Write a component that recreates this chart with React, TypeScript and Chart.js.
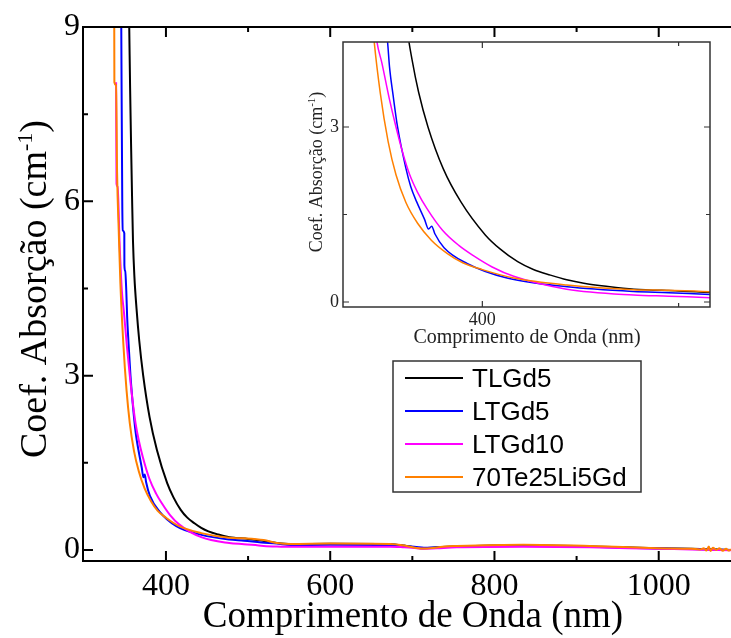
import React, { useEffect, useRef } from 'react';
import { Chart, registerables } from 'chart.js';

Chart.register(...registerables);

// ---- Axis ticks ----
const xTicksMain = [400, 600, 800, 1000];
const xMinorMain = [500, 700, 900];
const yTicksMain = [0, 3, 6, 9];
const yMinorMain = [1.5, 4.5, 7.5];
const xTicksInset = [400];
const xMinorInset = [500];
const yTicksInset = [0, 3];
const yMinorInset = [1.5];

// ---- Series ----
const seriesNames = ['TLGd5', 'LTGd5', 'LTGd10', '70Te25Li5Gd'];
const seriesColors = ['#000000', '#0000ff', '#ff00ff', '#ff8000'];

const wlTLGd5 = [354.6, 355.3, 356.3, 357.5, 358.7, 359.9, 361.6, 364.2, 367.5, 372.3, 380, 389, 401.5, 409, 418, 426, 434.7, 443, 451.7, 464, 477.2, 500, 518, 535, 552, 600, 673, 690, 705, 714, 730, 754, 835, 916, 998, 1040, 1088];
const absTLGd5 = [9.6, 9.0, 8.0, 7.0, 6.1, 5.3, 4.7, 4.15, 3.6, 3.0, 2.29, 1.72, 1.15, 0.91, 0.69, 0.556, 0.46, 0.38, 0.32, 0.265, 0.22, 0.19, 0.16, 0.12, 0.1, 0.105, 0.1, 0.075, 0.04, 0.03, 0.045, 0.06, 0.08, 0.06, 0.03, 0.02, 0.0];

const wlLTGd5 = [345.4, 345.6, 346.8, 347.3, 349.3, 349.4, 350.4, 351.7, 352.7, 354.5, 356.8, 361, 363.5, 366.5, 370.5, 372.6, 374.2, 375.8, 380.5, 392.2, 412.6, 443.2, 477, 495, 516, 535, 552, 600, 673, 690, 705, 714, 730, 754, 835, 916, 998, 1040, 1088];
const absLTGd5 = [9.5, 9.0, 6.0, 5.5, 5.45, 4.9, 4.8, 4.46, 4.03, 3.55, 3.0, 2.3, 1.98, 1.72, 1.42, 1.25, 1.3, 1.17, 0.93, 0.66, 0.41, 0.26, 0.18, 0.16, 0.13, 0.11, 0.085, 0.09, 0.085, 0.07, 0.05, 0.04, 0.045, 0.055, 0.07, 0.055, 0.025, 0.015, 0.0];

const wlLTGd10 = [339.3, 339.8, 341.2, 343.5, 346.3, 348.8, 352.5, 356, 359.5, 363, 367, 371.8, 379.7, 388, 395.6, 405, 416, 443, 477, 495, 519, 535, 552, 600, 673, 690, 705, 714, 730, 754, 835, 916, 998, 1040, 1088];
const absLTGd10 = [8.05, 6.3, 6.25, 5.3, 4.46, 4.1, 3.5, 3.0, 2.55, 2.18, 1.88, 1.6, 1.23, 0.97, 0.79, 0.6, 0.44, 0.22, 0.12, 0.1, 0.07, 0.06, 0.055, 0.057, 0.057, 0.045, 0.03, 0.02, 0.03, 0.045, 0.055, 0.045, 0.02, 0.01, -0.005];

const wl70Te = [337, 337.2, 339.3, 340.5, 342.5, 344.5, 348, 352, 356, 361, 367, 374, 382, 390, 400, 416, 443, 477, 495, 519, 535, 552, 600, 673, 690, 705, 714, 725, 740, 754, 835, 916, 998, 1040, 1050, 1055, 1058, 1061, 1063, 1066, 1070, 1074, 1078, 1082, 1085, 1088];
const abs70Te = [9.5, 8.05, 8.0, 6.5, 5.5, 4.6, 3.58, 2.75, 2.18, 1.71, 1.35, 1.06, 0.835, 0.673, 0.555, 0.41, 0.29, 0.21, 0.2, 0.17, 0.12, 0.103, 0.11, 0.103, 0.075, 0.035, 0.023, 0.035, 0.06, 0.068, 0.09, 0.069, 0.03, 0.02, 0.01, 0.03, -0.01, 0.06, -0.02, 0.04, 0.0, 0.03, -0.015, 0.02, -0.01, 0.01];

const seriesWl = [wlTLGd5, wlLTGd5, wlLTGd10, wl70Te];
const seriesAbs = [absTLGd5, absLTGd5, absLTGd10, abs70Te];
const seriesOrder = [3, 2, 1, 0];

const SERIF = '"Liberation Serif", "Times New Roman", serif';
const SANS = '"Liberation Sans", Arial, sans-serif';

function makeDatasets(width: number) {
  return seriesNames.map((name, i) => ({
    label: name,
    data: seriesWl[i].map((x, j) => ({ x, y: seriesAbs[i][j] })),
    borderColor: seriesColors[i],
    backgroundColor: seriesColors[i],
    borderWidth: width,
    pointRadius: 0,
    cubicInterpolationMode: 'monotone',
    fill: false,
    order: seriesOrder[i],
  }));
}

function drawTicks(chart: any, xMaj: number[], xMin: number[], yMaj: number[], yMin: number[], majLen: number, minLen: number, mirrorY: boolean, lw: number, color: string) {
  const { ctx, chartArea: ca, scales } = chart;
  ctx.save();
  ctx.strokeStyle = color;
  ctx.lineWidth = lw;
  ctx.beginPath();
  const xt = (v: number, len: number) => {
    const p = scales.x.getPixelForValue(v);
    ctx.moveTo(p, ca.bottom); ctx.lineTo(p, ca.bottom - len);
    ctx.moveTo(p, ca.top); ctx.lineTo(p, ca.top + len);
  };
  const yt = (v: number, len: number) => {
    const p = scales.y.getPixelForValue(v);
    ctx.moveTo(ca.left, p); ctx.lineTo(ca.left + len, p);
    if (mirrorY) { ctx.moveTo(ca.right, p); ctx.lineTo(ca.right - len, p); }
  };
  xMaj.forEach(v => xt(v, majLen));
  xMin.forEach(v => xt(v, minLen));
  yMaj.forEach(v => yt(v, majLen));
  yMin.forEach(v => yt(v, minLen));
  ctx.stroke();
  ctx.restore();
}

function drawYTitle(ctx: any, cx: number, cy: number, size: number, supSize: number, color: string) {
  ctx.save();
  ctx.fillStyle = color;
  ctx.translate(cx, cy);
  ctx.rotate(-Math.PI / 2);
  ctx.textBaseline = 'alphabetic';
  ctx.textAlign = 'left';
  const main = 'Coef. Absorção (cm';
  const sup = '-1';
  const close = ')';
  ctx.font = `${size}px ${SERIF}`;
  const w1 = ctx.measureText(main).width;
  const w3 = ctx.measureText(close).width;
  ctx.font = `${supSize}px ${SERIF}`;
  const w2 = ctx.measureText(sup).width;
  const total = w1 + w2 + w3;
  let x = -total / 2;
  ctx.font = `${size}px ${SERIF}`;
  ctx.fillText(main, x, 0);
  x += w1;
  ctx.font = `${supSize}px ${SERIF}`;
  ctx.fillText(sup, x, -size * 0.38);
  x += w2;
  ctx.font = `${size}px ${SERIF}`;
  ctx.fillText(close, x, 0);
  ctx.restore();
}

const mainDecor = {
  id: 'mainDecor',
  afterDraw(chart: any) {
    const { ctx, chartArea: ca } = chart;
    ctx.save();
    ctx.strokeStyle = '#000';
    ctx.lineWidth = 2;
    ctx.beginPath();
    ctx.moveTo(ca.left, ca.top - 1); ctx.lineTo(ca.left, ca.bottom + 1);
    ctx.moveTo(ca.left - 1, ca.bottom); ctx.lineTo(ca.right, ca.bottom);
    ctx.moveTo(ca.left - 1, ca.top); ctx.lineTo(ca.right, ca.top);
    ctx.stroke();
    ctx.restore();
    drawTicks(chart, xTicksMain, xMinorMain, yTicksMain, yMinorMain, 10, 5, false, 2, '#000');

    // axis titles
    ctx.save();
    ctx.fillStyle = '#000';
    ctx.font = `37px ${SERIF}`;
    ctx.textAlign = 'center';
    ctx.textBaseline = 'alphabetic';
    ctx.fillText('Comprimento de Onda (nm)', 413, 627);
    ctx.restore();
    drawYTitle(ctx, 46, 289, 38, 22, '#000');

    // legend
    const lx = 393, ly = 361, lw = 248, lh = 131;
    ctx.save();
    ctx.fillStyle = '#fff';
    ctx.fillRect(lx, ly, lw, lh);
    ctx.strokeStyle = '#333';
    ctx.lineWidth = 1.5;
    ctx.strokeRect(lx, ly, lw, lh);
    ctx.font = `26px ${SANS}`;
    ctx.textAlign = 'left';
    ctx.textBaseline = 'alphabetic';
    seriesNames.forEach((name, i) => {
      const y = 378 + i * 33;
      ctx.strokeStyle = seriesColors[i];
      ctx.lineWidth = 2;
      ctx.beginPath();
      ctx.moveTo(405, y); ctx.lineTo(463, y);
      ctx.stroke();
      ctx.fillStyle = '#000';
      ctx.fillText(name, 472, y + 9);
    });
    ctx.restore();
  },
};

const insetDecor = {
  id: 'insetDecor',
  beforeDraw(chart: any) {
    const { ctx, chartArea: ca } = chart;
    ctx.save();
    ctx.fillStyle = '#fff';
    ctx.fillRect(ca.left, ca.top, ca.right - ca.left, ca.bottom - ca.top);
    ctx.restore();
  },
  afterDraw(chart: any) {
    const { ctx, chartArea: ca } = chart;
    ctx.save();
    ctx.strokeStyle = '#333';
    ctx.lineWidth = 1.5;
    ctx.strokeRect(ca.left, ca.top, ca.right - ca.left, ca.bottom - ca.top);
    ctx.restore();
    drawTicks(chart, xTicksInset, xMinorInset, yTicksInset, yMinorInset, 6, 4, true, 1.2, '#333');
    ctx.save();
    ctx.fillStyle = '#222';
    ctx.font = `20px ${SERIF}`;
    ctx.textAlign = 'center';
    ctx.textBaseline = 'alphabetic';
    ctx.fillText('Comprimento de Onda (nm)', 227, 323);
    ctx.restore();
    drawYTitle(ctx, 22, 152, 18, 11, '#222');
  },
};

const plainLabel = (v: any) => String(v);

export default function App() {
  const mainRef = useRef<HTMLCanvasElement>(null);
  const insetRef = useRef<HTMLCanvasElement>(null);

  useEffect(() => {
    const main = new Chart(mainRef.current as HTMLCanvasElement, {
      type: 'line',
      data: { datasets: makeDatasets(2) as any },
      options: {
        animation: false,
        responsive: false,
        devicePixelRatio: 1,
        layout: { padding: { top: 27, right: 0, left: 0, bottom: 0 } },
        plugins: { legend: { display: false }, tooltip: { enabled: false } },
        scales: {
          x: {
            type: 'linear',
            min: 299,
            max: 1088,
            afterBuildTicks: (s: any) => { s.ticks = xTicksMain.map(v => ({ value: v })); },
            afterFit: (s: any) => { s.height = 77; },
            ticks: { font: { family: SERIF, size: 32 }, color: '#000', padding: 6, maxRotation: 0, autoSkip: false, callback: plainLabel },
            grid: { display: false, drawTicks: false },
            border: { display: false },
          },
          y: {
            type: 'linear',
            min: -0.19,
            max: 9,
            afterBuildTicks: (s: any) => { s.ticks = yTicksMain.map(v => ({ value: v })); },
            afterFit: (s: any) => { s.width = 83; },
            ticks: { font: { family: SERIF, size: 32 }, color: '#000', padding: 3, autoSkip: false, callback: plainLabel },
            grid: { display: false, drawTicks: false },
            border: { display: false },
          },
        },
      } as any,
      plugins: [mainDecor],
    });

    const inset = new Chart(insetRef.current as HTMLCanvasElement, {
      type: 'line',
      data: { datasets: makeDatasets(1.5) as any },
      options: {
        animation: false,
        responsive: false,
        devicePixelRatio: 1,
        layout: { padding: { top: 22, right: 21, left: 0, bottom: 0 } },
        plugins: { legend: { display: false }, tooltip: { enabled: false } },
        scales: {
          x: {
            type: 'linear',
            min: 329,
            max: 516,
            afterBuildTicks: (s: any) => { s.ticks = xTicksInset.map(v => ({ value: v })); },
            afterFit: (s: any) => { s.height = 53; },
            ticks: { font: { family: SERIF, size: 18 }, color: '#222', padding: 2, maxRotation: 0, autoSkip: false, callback: plainLabel },
            grid: { display: false, drawTicks: false },
            border: { display: false },
          },
          y: {
            type: 'linear',
            min: -0.086,
            max: 4.457,
            afterBuildTicks: (s: any) => { s.ticks = yTicksInset.map(v => ({ value: v })); },
            afterFit: (s: any) => { s.width = 43; },
            ticks: { font: { family: SERIF, size: 18 }, color: '#222', padding: 4, autoSkip: false, callback: plainLabel },
            grid: { display: false, drawTicks: false },
            border: { display: false },
          },
        },
      } as any,
      plugins: [insetDecor],
    });

    return () => { main.destroy(); inset.destroy(); };
  }, []);

  return (
    <div style={{ position: 'absolute', left: 0, top: 0, width: 731, height: 638, background: '#fff' }}>
      <canvas ref={mainRef} width={731} height={638} style={{ position: 'absolute', left: 0, top: 0 }} />
      <canvas ref={insetRef} width={431} height={340} style={{ position: 'absolute', left: 300, top: 20 }} />
    </div>
  );
}
